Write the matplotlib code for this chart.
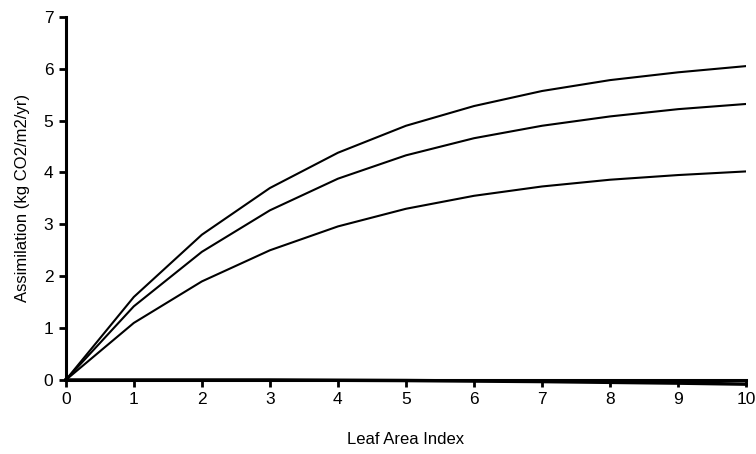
import matplotlib.pyplot as plt
import numpy as np

plt.rcParams['font.family'] = ['Liberation Sans', 'DejaVu Sans']

lai = [0, 1, 2, 3, 4, 5, 6, 7, 8, 9, 10]
high = [0, 1.60, 2.80, 3.70, 4.38, 4.90, 5.28, 5.57, 5.78, 5.93, 6.05]
mid = [0, 1.42, 2.47, 3.27, 3.88, 4.33, 4.66, 4.90, 5.08, 5.22, 5.32]
low = [0, 1.10, 1.90, 2.50, 2.96, 3.30, 3.55, 3.73, 3.86, 3.95, 4.02]
base = [0, 0, 0, 0, -0.005, -0.01, -0.02, -0.03, -0.045, -0.06, -0.08]

fig = plt.figure(figsize=(7.56, 4.54), dpi=100)
ax = fig.add_axes([0.087, 0.163, 0.9, 0.8])

for ys in (high, mid, low):
    ax.plot(lai, ys, color='black', lw=1.5)
ax.plot(lai, base, color='black', lw=2.5, clip_on=False)

ax.set_xlim(0, 10)
ax.set_ylim(0, 7)
ax.set_xticks(np.arange(0, 11))
ax.set_yticks(np.arange(0, 8))

for s in ('top', 'right'):
    ax.spines[s].set_visible(False)
for s in ('left', 'bottom'):
    ax.spines[s].set_linewidth(2.2)
ax.tick_params(direction='out', length=5, width=2, labelsize=12.5, pad=4)

ax.set_xlabel('Leaf Area Index', fontsize=12, labelpad=18)
ax.set_ylabel('Assimilation (kg CO2/m2/yr)', fontsize=12, labelpad=10)

fig.savefig('out.png', dpi=100)
